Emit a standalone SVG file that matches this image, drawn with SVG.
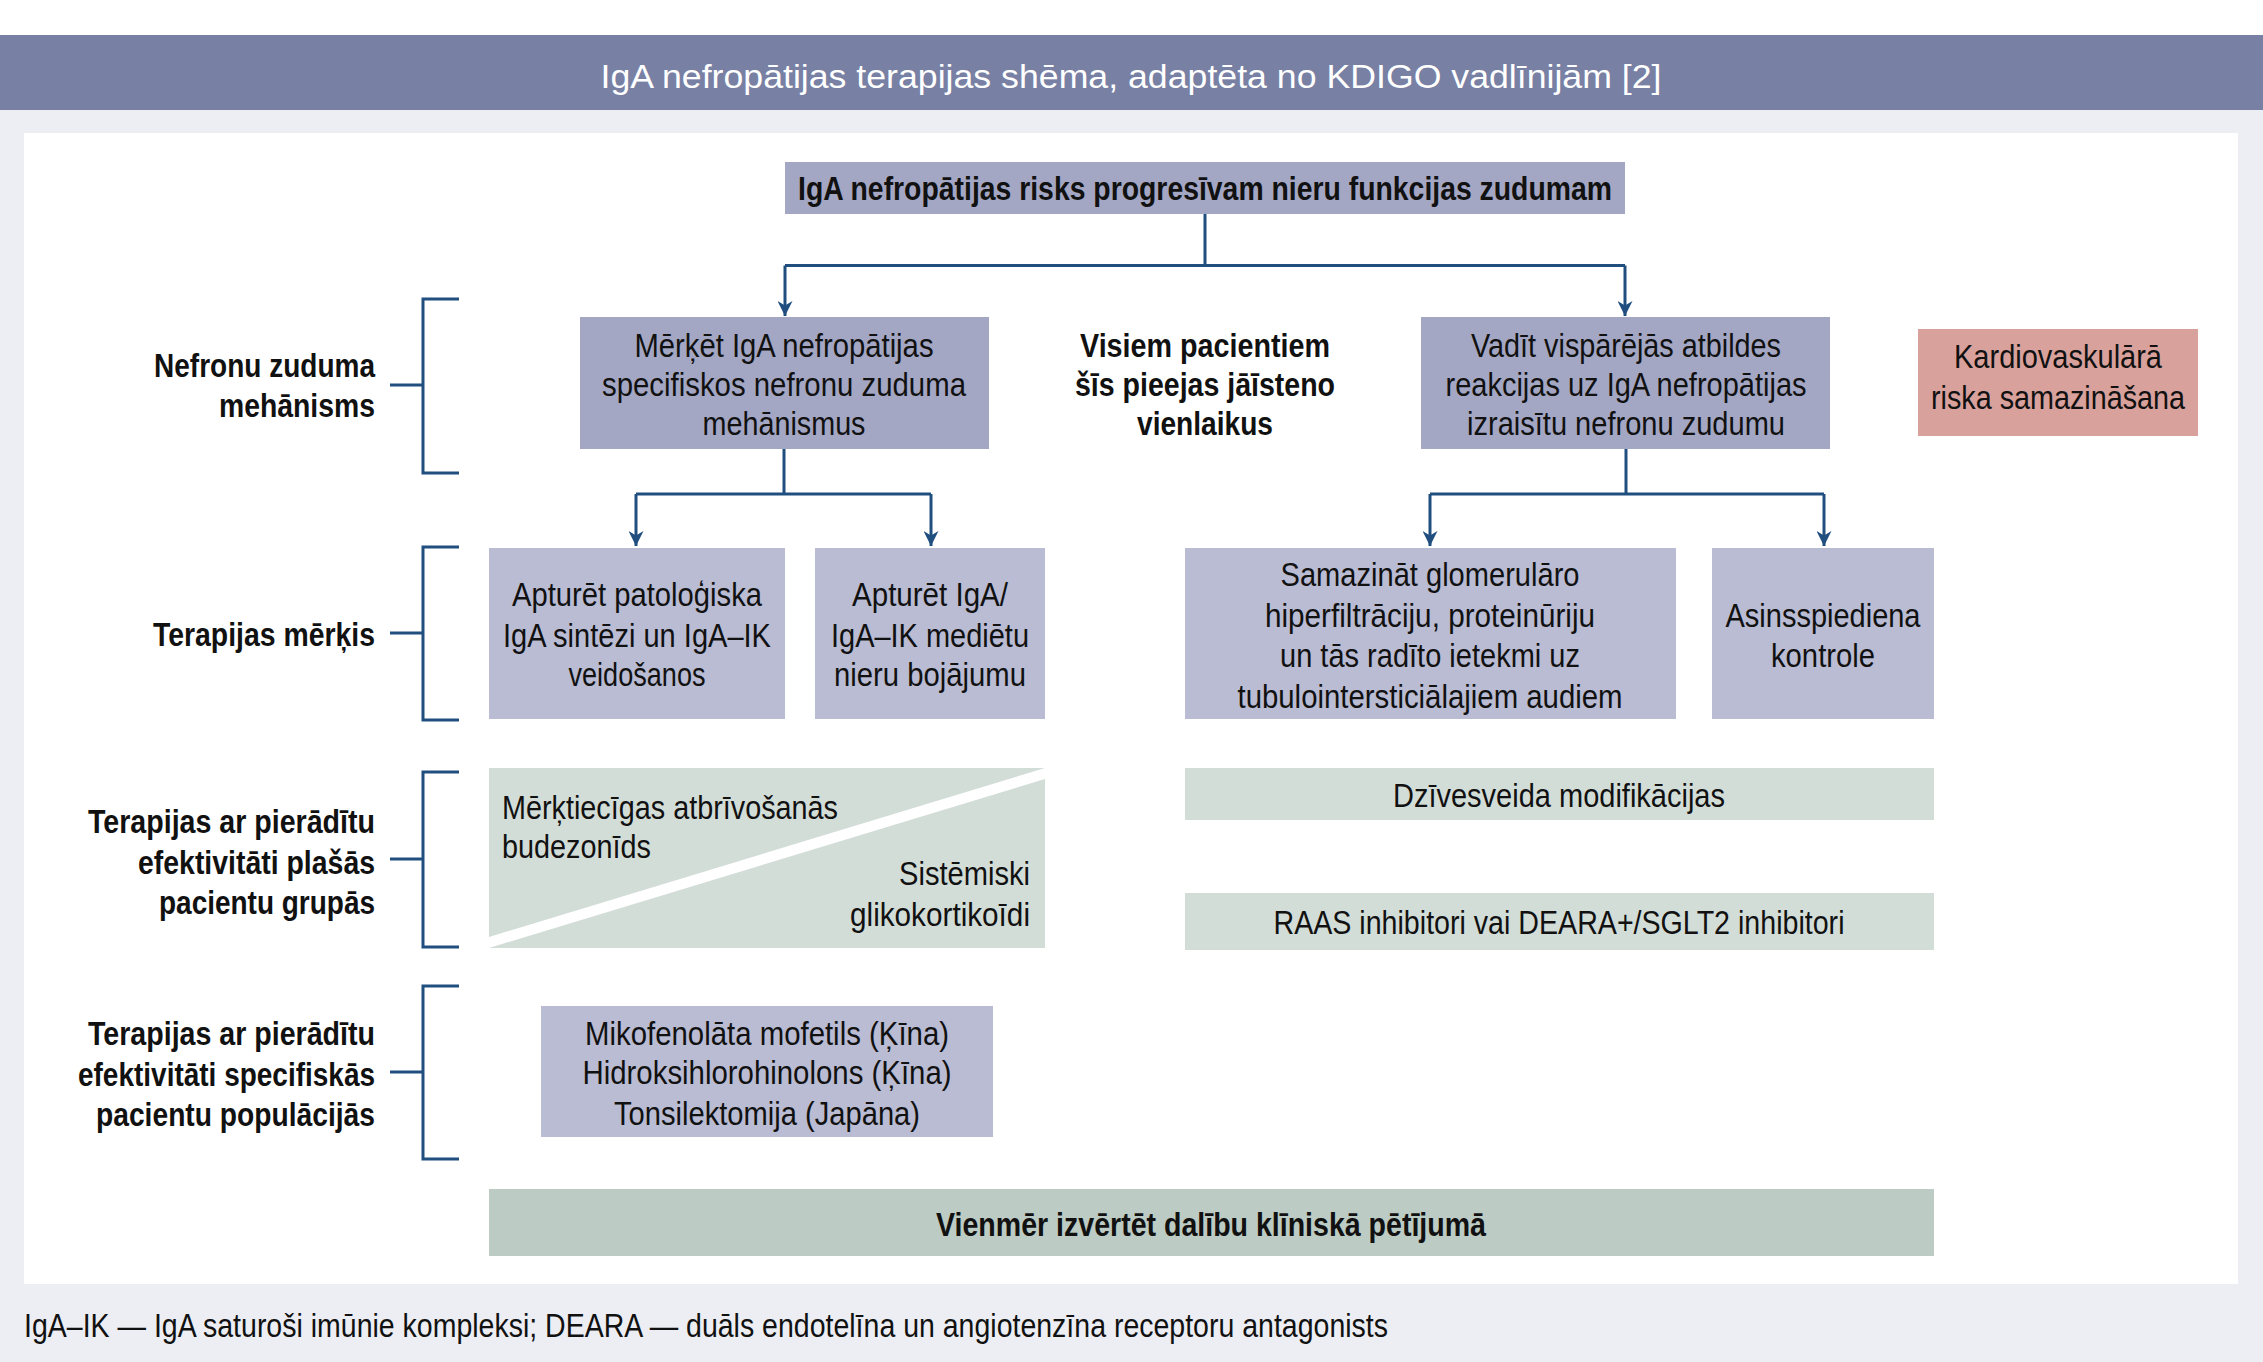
<svg xmlns="http://www.w3.org/2000/svg" width="2263" height="1362" viewBox="0 0 2263 1362">
<defs>
<style>
text{font-family:"Liberation Sans",Arial,sans-serif;font-size:33px;fill:#111;}
.b{font-weight:bold;}
.c{text-anchor:middle;}
.r{text-anchor:end;}
.ln{stroke:#1f4e7f;stroke-width:3;fill:none;}
.p1{fill:#a3a7c4;}
.p2{fill:#b9bcd3;}
.g1{fill:#d3ddd8;}
</style>
<marker id="ah" viewBox="0 0 10 10" refX="10" refY="5" markerWidth="5" markerHeight="5" orient="auto" markerUnits="strokeWidth">
<path d="M0,0 L10,5 L0,10 L3,5 z" fill="#1f4e7f"/>
</marker>
</defs>
<rect x="0" y="0" width="2263" height="1362" fill="#eceef3"/>
<rect x="0" y="0" width="2263" height="35" fill="#ffffff"/>
<rect x="0" y="35" width="2263" height="75" fill="#7880a4"/>
<text class="c" x="1131" y="88" font-size="38" style="fill:#fff" textLength="1061" lengthAdjust="spacingAndGlyphs">IgA nefropātijas terapijas shēma, adaptēta no KDIGO vadlīnijām [2]</text>
<rect x="24" y="133" width="2214" height="1151" fill="#fff"/>
<text x="24" y="1337" textLength="1364" lengthAdjust="spacingAndGlyphs">IgA–IK — IgA saturoši imūnie kompleksi; DEARA — duāls endotelīna un angiotenzīna receptoru antagonists</text>

<g id="connectors">
<path class="ln" d="M1205,214 V265.5 M785,265.5 H1625"/>
<path class="ln" d="M785,265.5 V316" marker-end="url(#ah)"/>
<path class="ln" d="M1625,265.5 V316" marker-end="url(#ah)"/>
<path class="ln" d="M784,449 V494 M636,494 H931"/>
<path class="ln" d="M636,494 V546" marker-end="url(#ah)"/>
<path class="ln" d="M931,494 V546" marker-end="url(#ah)"/>
<path class="ln" d="M1626,449 V494 M1430,494 H1824"/>
<path class="ln" d="M1430,494 V546" marker-end="url(#ah)"/>
<path class="ln" d="M1824,494 V546" marker-end="url(#ah)"/>
</g>

<g id="brackets">
<path class="ln" d="M459,299 H423 V473 H459 M390,385 H423"/>
<path class="ln" d="M459,547 H423 V720 H459 M390,633 H423"/>
<path class="ln" d="M459,772 H423 V947 H459 M390,859 H423"/>
<path class="ln" d="M459,986 H423 V1159 H459 M390,1072 H423"/>
</g>

<g id="labels">
<text class="b r" x="375" y="377" textLength="221" lengthAdjust="spacingAndGlyphs">Nefronu zuduma</text>
<text class="b r" x="375" y="417" textLength="156" lengthAdjust="spacingAndGlyphs">mehānisms</text>
<text class="b r" x="375" y="646" textLength="222" lengthAdjust="spacingAndGlyphs">Terapijas mērķis</text>
<text class="b r" x="375" y="833" textLength="287" lengthAdjust="spacingAndGlyphs">Terapijas ar pierādītu</text>
<text class="b r" x="375" y="874" textLength="237" lengthAdjust="spacingAndGlyphs">efektivitāti plašās</text>
<text class="b r" x="375" y="914" textLength="216" lengthAdjust="spacingAndGlyphs">pacientu grupās</text>
<text class="b r" x="375" y="1045" textLength="287" lengthAdjust="spacingAndGlyphs">Terapijas ar pierādītu</text>
<text class="b r" x="375" y="1086" textLength="297" lengthAdjust="spacingAndGlyphs">efektivitāti specifiskās</text>
<text class="b r" x="375" y="1126" textLength="279" lengthAdjust="spacingAndGlyphs">pacientu populācijās</text>
</g>

<g id="top">
<rect class="p1" x="785" y="162" width="840" height="52"/>
<text class="b c" x="1205" y="200" textLength="814" lengthAdjust="spacingAndGlyphs">IgA nefropātijas risks progresīvam nieru funkcijas zudumam</text>
</g>
<g id="boxA">
<rect class="p1" x="580" y="317" width="409" height="132"/>
<text class="c" x="784" y="357" textLength="299" lengthAdjust="spacingAndGlyphs">Mērķēt IgA nefropātijas</text>
<text class="c" x="784" y="396" textLength="364" lengthAdjust="spacingAndGlyphs">specifiskos nefronu zuduma</text>
<text class="c" x="784" y="435" textLength="163" lengthAdjust="spacingAndGlyphs">mehānismus</text>
</g>
<g id="middle">
<text class="b c" x="1205" y="357" textLength="250" lengthAdjust="spacingAndGlyphs">Visiem pacientiem</text>
<text class="b c" x="1205" y="396" textLength="260" lengthAdjust="spacingAndGlyphs">šīs pieejas jāīsteno</text>
<text class="b c" x="1205" y="435" textLength="136" lengthAdjust="spacingAndGlyphs">vienlaikus</text>
</g>
<g id="boxB">
<rect class="p1" x="1421" y="317" width="409" height="132"/>
<text class="c" x="1626" y="357" textLength="310" lengthAdjust="spacingAndGlyphs">Vadīt vispārējās atbildes</text>
<text class="c" x="1626" y="396" textLength="361" lengthAdjust="spacingAndGlyphs">reakcijas uz IgA nefropātijas</text>
<text class="c" x="1626" y="435" textLength="318" lengthAdjust="spacingAndGlyphs">izraisītu nefronu zudumu</text>
</g>
<g id="cardio">
<rect x="1918" y="329" width="280" height="107" fill="#d9a19c"/>
<text class="c" x="2058" y="368" textLength="208" lengthAdjust="spacingAndGlyphs">Kardiovaskulārā</text>
<text class="c" x="2058" y="409" textLength="254" lengthAdjust="spacingAndGlyphs">riska samazināšana</text>
</g>
<g id="boxC">
<rect class="p2" x="489" y="548" width="296" height="171"/>
<text class="c" x="637" y="606" textLength="250" lengthAdjust="spacingAndGlyphs">Apturēt patoloģiska</text>
<text class="c" x="637" y="647" textLength="268" lengthAdjust="spacingAndGlyphs">IgA sintēzi un IgA–IK</text>
<text class="c" x="637" y="686" textLength="137" lengthAdjust="spacingAndGlyphs">veidošanos</text>
</g>
<g id="boxD">
<rect class="p2" x="815" y="548" width="230" height="171"/>
<text class="c" x="930" y="606" textLength="156" lengthAdjust="spacingAndGlyphs">Apturēt IgA/</text>
<text class="c" x="930" y="647" textLength="198" lengthAdjust="spacingAndGlyphs">IgA–IK mediētu</text>
<text class="c" x="930" y="686" textLength="192" lengthAdjust="spacingAndGlyphs">nieru bojājumu</text>
</g>
<g id="boxE">
<rect class="p2" x="1185" y="548" width="491" height="171"/>
<text class="c" x="1430" y="586" textLength="299" lengthAdjust="spacingAndGlyphs">Samazināt glomerulāro</text>
<text class="c" x="1430" y="627" textLength="330" lengthAdjust="spacingAndGlyphs">hiperfiltrāciju, proteinūriju</text>
<text class="c" x="1430" y="667" textLength="300" lengthAdjust="spacingAndGlyphs">un tās radīto ietekmi uz</text>
<text class="c" x="1430" y="708" textLength="385" lengthAdjust="spacingAndGlyphs">tubulointersticiālajiem audiem</text>
</g>
<g id="boxF">
<rect class="p2" x="1712" y="548" width="222" height="171"/>
<text class="c" x="1823" y="627" textLength="195" lengthAdjust="spacingAndGlyphs">Asinsspiediena</text>
<text class="c" x="1823" y="667" textLength="104" lengthAdjust="spacingAndGlyphs">kontrole</text>
</g>
<g id="boxG">
<rect class="g1" x="489" y="768" width="556" height="180"/>
<path d="M489,948 L489,937 L1045,768 L1045,779 Z" fill="#fff"/>
<text x="502" y="819" textLength="336" lengthAdjust="spacingAndGlyphs">Mērķtiecīgas atbrīvošanās</text>
<text x="502" y="858" textLength="149" lengthAdjust="spacingAndGlyphs">budezonīds</text>
<text class="r" x="1030" y="885" textLength="131" lengthAdjust="spacingAndGlyphs">Sistēmiski</text>
<text class="r" x="1030" y="926" textLength="180" lengthAdjust="spacingAndGlyphs">glikokortikoīdi</text>
</g>
<g id="boxH">
<rect class="g1" x="1185" y="768" width="749" height="52"/>
<text class="c" x="1559" y="807" textLength="332" lengthAdjust="spacingAndGlyphs">Dzīvesveida modifikācijas</text>
</g>
<g id="boxI">
<rect class="g1" x="1185" y="893" width="749" height="57"/>
<text class="c" x="1559" y="934" textLength="571" lengthAdjust="spacingAndGlyphs">RAAS inhibitori vai DEARA+/SGLT2 inhibitori</text>
</g>
<g id="boxJ">
<rect class="p2" x="541" y="1006" width="452" height="131"/>
<text class="c" x="767" y="1045" textLength="364" lengthAdjust="spacingAndGlyphs">Mikofenolāta mofetils (Ķīna)</text>
<text class="c" x="767" y="1084" textLength="369" lengthAdjust="spacingAndGlyphs">Hidroksihlorohinolons (Ķīna)</text>
<text class="c" x="767" y="1125" textLength="306" lengthAdjust="spacingAndGlyphs">Tonsilektomija (Japāna)</text>
</g>
<g id="boxK">
<rect x="489" y="1189" width="1445" height="67" fill="#bccbc3"/>
<text class="b c" x="1211" y="1236" textLength="550" lengthAdjust="spacingAndGlyphs">Vienmēr izvērtēt dalību klīniskā pētījumā</text>
</g>
</svg>
